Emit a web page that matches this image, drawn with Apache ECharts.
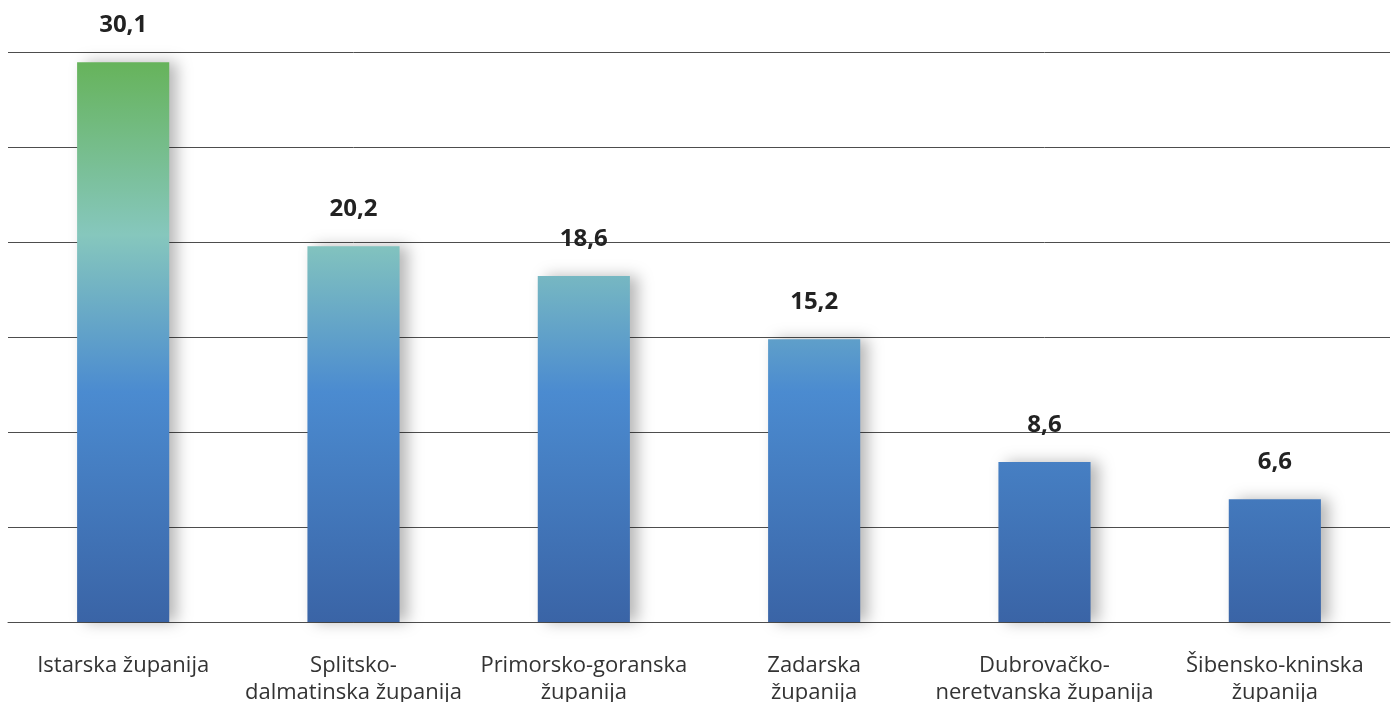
<!DOCTYPE html>
<html>
<head>
<meta charset="utf-8">
<script src="https://cdn.jsdelivr.net/npm/echarts@6/dist/echarts.min.js"></script>
<style>html,body{margin:0;padding:0;background:#fff;}#c{width:1394px;height:702px;}</style>
</head>
<body>
<div id="c"></div>
<script>
const categories = ["Istarska županija", "Splitsko-\ndalmatinska županija", "Primorsko-goranska\nžupanija", "Zadarska\nžupanija", "Dubrovačko-\nneretvanska županija", "Šibensko-kninska\nžupanija"];
const values = [30.1, 20.2, 18.6, 15.2, 8.6, 6.6];
const axisMax = 30.65;

const chart = echarts.init(document.getElementById('c'));
const grad = new echarts.graphic.LinearGradient(0, 61, 0, 622, [
  {offset: 0, color: '#66b35a'},
  {offset: 0.31, color: '#86c7bd'},
  {offset: 0.59, color: '#4b8bd0'},
  {offset: 1, color: '#3a64a6'}
], true);
chart.setOption({
  animation: false,
  grid: {left: 8, right: 4, top: 52, bottom: 80, containLabel: false, outerBoundsMode: 'none'},
  xAxis: {
    type: 'category',
    data: categories,
    axisLine: {show: true, lineStyle: {color: '#4d4d4d', width: 1}},
    axisTick: {show: false},
    axisLabel: {interval: 0, margin: 30, fontSize: 22, lineHeight: 27, color: '#333', fontFamily: 'Open Sans'}
  },
  yAxis: {
    type: 'value',
    min: 0, max: axisMax, interval: axisMax / 6,
    axisLabel: {show: false},
    axisLine: {show: false},
    axisTick: {show: false},
    splitLine: {show: true, lineStyle: {color: '#4d4d4d', width: 1}}
  },
  series: [{
    type: 'bar',
    data: values,
    barWidth: '40%',
    itemStyle: {color: grad, shadowColor: 'rgba(0,0,0,0.28)', shadowBlur: 14, shadowOffsetX: 8},
    label: {
      show: true, position: 'top', distance: 25,
      fontSize: 24, fontWeight: 'bold', color: '#222', fontFamily: 'Open Sans',
      formatter: p => String(p.value).replace('.', ',')
    }
  }]
});
</script>
</body>
</html>
